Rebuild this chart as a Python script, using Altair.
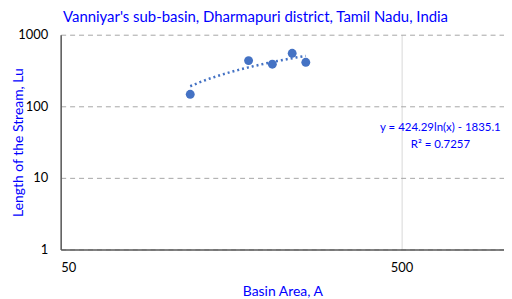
import altair as alt
import pandas as pd

basin_area = [120, 178, 209, 239, 262]
stream_length = [147, 435, 387, 550, 412]
eq_lines = ["y = 424.29ln(x) - 1835.1", "R² = 0.7257"]

df = pd.DataFrame({"A": basin_area, "Lu": stream_length})
ann = pd.DataFrame({"t": ["\n".join(eq_lines)]})

FONT = "Lato"
BLUE = "#0000FF"
PT = "#4472C4"

xscale = alt.Scale(type="log", domain=[50, 1000], nice=False)
yscale = alt.Scale(type="log", domain=[1, 1000], nice=False)

xaxis = alt.Axis(values=[50, 500], format="d", title="Basin Area, A", grid=True,
                 gridColor="#d9d9d9", gridWidth=1, ticks=False, labelPadding=12,
                 labelFontSize=13, labelFont=FONT, labelColor="#000000",
                 domainColor="#595959", domainWidth=1.5,
                 titleColor=BLUE, titleFont=FONT, titleFontSize=14, titleFontWeight="normal",
                 titlePadding=10)
yaxis = alt.Axis(values=[1, 10, 100, 1000], format="d", title="Length of the Stream, Lu",
                 grid=True, gridColor="#a6a6a6", gridDash=[5, 4], gridWidth=1,
                 ticks=False, labelPadding=13, labelFontSize=13, labelFont=FONT,
                 labelColor="#000000", domainColor="#595959", domainWidth=1.5,
                 titleColor=BLUE, titleFont=FONT, titleFontSize=14, titleFontWeight="normal",
                 titleX=-42, titleY=108, titleAngle=270, titleAlign="center",
                 titleBaseline="middle")

base = alt.Chart(df)
points = base.mark_circle(size=80, color=PT, opacity=1).encode(
    x=alt.X("A:Q", scale=xscale, axis=xaxis),
    y=alt.Y("Lu:Q", scale=yscale, axis=yaxis),
)
trend = base.transform_regression("A", "Lu", method="log").mark_line(
    color=PT, strokeDash=[2, 3], strokeWidth=2.5
).encode(x=alt.X("A:Q", scale=xscale, axis=xaxis), y=alt.Y("Lu:Q", scale=yscale, axis=yaxis))

text = alt.Chart(ann).mark_text(font=FONT, fontSize=11.5, color=BLUE, align="center",
                                baseline="top", lineBreak="\n", lineHeight=17).encode(
    x=alt.value(382),
    y=alt.value(88),
    text="t:N",
)

chart = alt.layer(trend, points, text).properties(
    width=446, height=216,
    autosize=alt.AutoSizeParams(type="none"),
    padding={"left": 53, "top": 26, "right": 0, "bottom": 49},
    title=alt.TitleParams("Vanniyar's sub-basin, Dharmapuri district, Tamil Nadu, India",
                          font=FONT, fontSize=15, fontWeight="normal", color=BLUE,
                          anchor="middle", dx=-27, offset=4),
).configure_view(stroke=None)

chart.save("out.html", embed_options={"renderer": "svg", "actions": False})
